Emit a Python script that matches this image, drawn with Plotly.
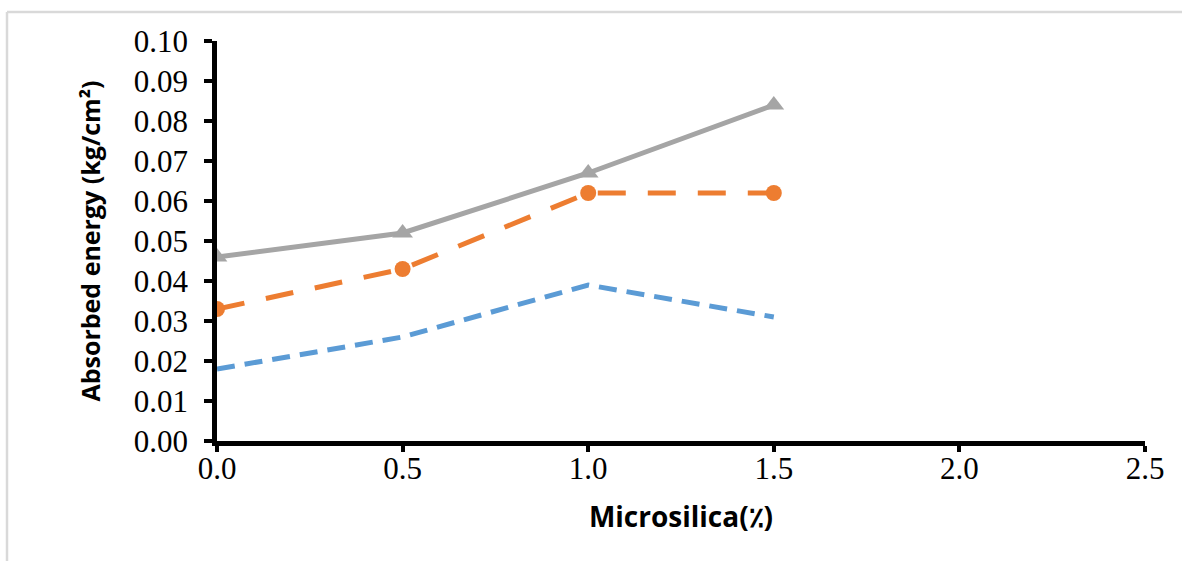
import plotly.graph_objects as go

microsilica = [0.0, 0.5, 1.0, 1.5]
series_blue = [0.018, 0.026, 0.039, 0.031]
series_orange = [0.033, 0.043, 0.062, 0.062]
series_gray = [0.046, 0.052, 0.067, 0.084]
x_ticks = [0.0, 0.5, 1.0, 1.5, 2.0, 2.5]
y_ticks = [0.00, 0.01, 0.02, 0.03, 0.04, 0.05, 0.06, 0.07, 0.08, 0.09, 0.10]

W, H = 1182, 561
L, R, T, B = 217, 37, 41, 120
pw, ph = W - L - R, H - T - B

fig = go.Figure()
fig.add_trace(go.Scatter(x=microsilica, y=series_blue, mode="lines",
                         line=dict(color="#5b9bd5", width=5, dash="18px,10px"),
                         showlegend=False))
fig.add_trace(go.Scatter(x=microsilica, y=series_orange, mode="lines+markers",
                         line=dict(color="#ed7d31", width=5, dash="28px,22px"),
                         marker=dict(symbol="circle", size=16, color="#ed7d31"),
                         showlegend=False))
fig.add_trace(go.Scatter(x=microsilica, y=series_gray, mode="lines+markers",
                         line=dict(color="#a5a5a5", width=5),
                         marker=dict(symbol="triangle-up", size=18, color="#a5a5a5"),
                         showlegend=False))

tick_font = dict(family="Liberation Serif", size=31, color="#000000")

fig.update_xaxes(range=[0, 2.5], tickvals=x_ticks, ticktext=[f"{v:.1f}" for v in x_ticks],
                 showline=True, linecolor="#000000", linewidth=4.5, ticks="outside",
                 ticklen=6, tickwidth=4, tickcolor="#000000", showgrid=False, zeroline=False,
                 tickfont=tick_font, ticklabelstandoff=-10,
                 title=dict(text="<b>Microsilica(٪)</b>",
                            font=dict(family="Open Sans", size=28, color="#000000"), standoff=24))
fig.update_yaxes(range=[0, 0.10], tickvals=y_ticks, ticktext=[f"{v:.2f}" for v in y_ticks],
                 showline=True, linecolor="#000000", linewidth=4.5, ticks="outside",
                 ticklen=8, tickwidth=4, tickcolor="#000000", showgrid=False, zeroline=False,
                 tickfont=tick_font, ticklabelstandoff=10,
                 title=dict(text="<b>Absorbed energy (kg/cm²)</b>",
                            font=dict(family="Open Sans", size=25, color="#000000"), standoff=28))

# light frame (top and left edges)
fx = (7 - L) / pw
fy = (H - 12 - B) / ph
fig.add_shape(type="line", xref="paper", yref="paper", x0=fx, x1=(W - L) / pw, y0=fy, y1=fy,
              line=dict(color="#d9d9d9", width=2.5))
fig.add_shape(type="line", xref="paper", yref="paper", x0=fx, x1=fx, y0=fy, y1=-B / ph,
              line=dict(color="#d9d9d9", width=2.5))

fig.update_layout(width=W, height=H, margin=dict(l=L, r=R, t=T, b=B),
                  paper_bgcolor="#ffffff", plot_bgcolor="#ffffff")
fig.write_html("out.html")
